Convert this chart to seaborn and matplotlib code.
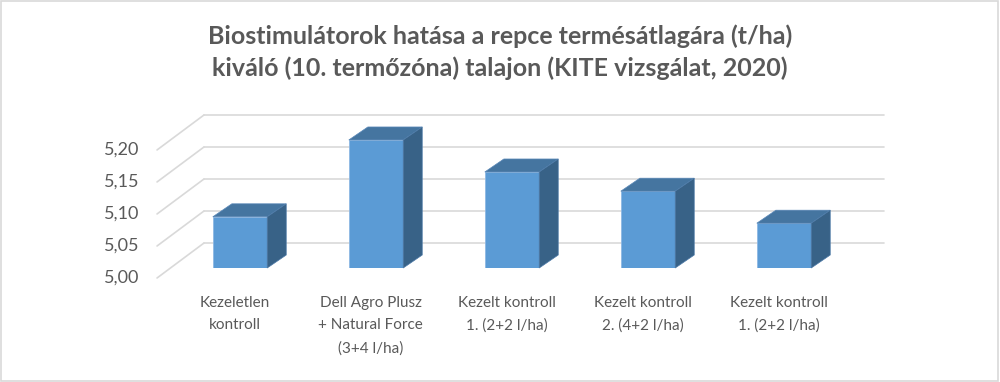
import matplotlib
matplotlib.use("Agg")
import matplotlib.pyplot as plt
from matplotlib.patches import Polygon, Rectangle
import seaborn as sns

categories = ["Kezeletlen\nkontroll",
              "Dell Agro Plusz\n+ Natural Force\n(3+4 l/ha)",
              "Kezelt kontroll\n1. (2+2 l/ha)",
              "Kezelt kontroll\n2. (4+2 l/ha)",
              "Kezelt kontroll\n1. (2+2 l/ha)"]
values = [5.08, 5.20, 5.15, 5.12, 5.07]
yticks = [5.00, 5.05, 5.10, 5.15, 5.20]
ytick_labels = ["5,00", "5,05", "5,10", "5,15", "5,20"]
title = "Biostimulátorok hatása a repce termésátlagára (t/ha)\nkiváló (10. termőzóna) talajon (KITE vizsgálat, 2020)"

front_col = "#5B9BD5"
top_col = "#4575A0"
side_col = "#386287"
grid_col = "#D9D9D9"
text_col = "#595959"

sns.set_style("white")
plt.rcParams["font.family"] = ["Lato", "DejaVu Sans"]

fig = plt.figure(figsize=(10, 3.82), dpi=100)
ax = fig.add_axes([0.172, 0.2984, 0.68, 0.419])

sns.barplot(x=list(range(len(values))), y=values, color=front_col,
            saturation=1, width=0.4, edgecolor="#8DB8E4", linewidth=0.6,
            ax=ax, zorder=3)
ax.set_xlim(-0.5, 4.5)
ax.set_ylim(5.0, 5.25)
ax.axis("off")

# pseudo 3D offsets (data units)
fdx, fdy = -0.110, -0.0156   # front edge of floor
bdx, bdy = 0.235, 0.039      # back wall
ddx, ddy = 0.14, 0.0203      # bar depth

# back wall gridlines + left diagonals
for t in yticks:
    ax.plot([-0.5 + bdx, 4.5 + bdx], [t + bdy, t + bdy], color=grid_col,
            lw=1.2, zorder=1, clip_on=False)
    ax.plot([-0.5 + fdx, -0.5 + bdx], [t + fdy, t + bdy], color=grid_col,
            lw=1.2, zorder=1, clip_on=False)

for t, lab in zip(yticks, ytick_labels):
    ax.text(-0.5 + fdx - 0.13, t + fdy, lab, ha="right", va="center",
            fontsize=13, color=text_col)

# top and side faces of the bars
for p, v in zip(ax.patches, values):
    x0 = p.get_x()
    x1 = x0 + p.get_width()
    top = Polygon([(x0, v), (x1, v), (x1 + ddx, v + ddy), (x0 + ddx, v + ddy)],
                  closed=True, facecolor=top_col, edgecolor="#5A88B8", lw=0.5,
                  zorder=4, clip_on=False)
    side = Polygon([(x1, 5.0), (x1, v), (x1 + ddx, v + ddy), (x1 + ddx, 5.0 + ddy)],
                   closed=True, facecolor=side_col, edgecolor="#4D7AA8", lw=0.5,
                   zorder=4, clip_on=False)
    ax.add_patch(top)
    ax.add_patch(side)

for i, lab in enumerate(categories):
    ax.text(i - 0.04, 4.957, lab, ha="center", va="top", fontsize=11,
            color=text_col, linespacing=1.8)

fig.text(0.5, 0.863, title, ha="center", va="center", fontsize=18,
         fontweight="bold", color=text_col, linespacing=1.45)

fig.patches.append(Rectangle((0.001, 0.002), 0.997, 0.995, transform=fig.transFigure,
                             fill=False, edgecolor=grid_col, lw=1.2))

fig.savefig("out.png", dpi=100, facecolor="white")
